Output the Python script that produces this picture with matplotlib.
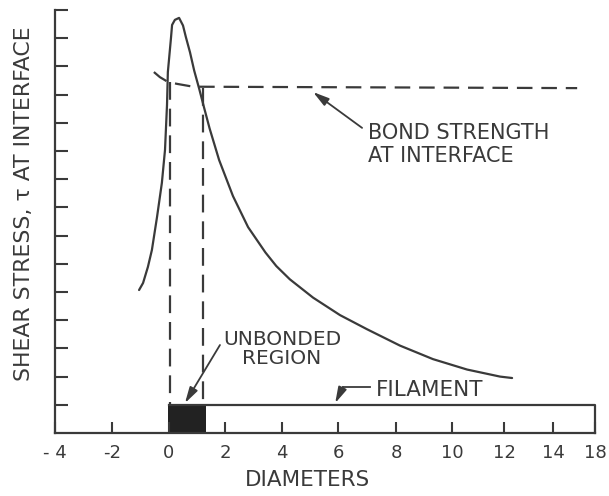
import numpy as np
import matplotlib
matplotlib.use("Agg")
import matplotlib.pyplot as plt

# x axis of the original drawing is not linear (12-14-18 squeezed together)
tick_values = [-4, -2, 0, 2, 4, 6, 8, 10, 12, 14, 18]
tick_labels = ["- 4", "-2", "0", "2", "4", "6", "8", "10", "12", "14", "18"]
scale_px = [55, 112, 169, 225, 282, 338, 396, 452, 504, 553, 595]

# shear stress curve (diameters, stress units)
shear_x = [-1.05, -0.91, -0.74, -0.60, -0.42, -0.25, -0.14, -0.07, -0.04, 0.07,
           0.11, 0.21, 0.36, 0.50, 0.60, 0.75, 0.90, 1.08, 1.25, 1.45,
           1.79, 2.28, 2.81, 3.42, 3.80, 4.28, 5.11, 6.07, 7.00, 8.14,
           9.32, 10.58, 11.85, 12.33]
shear_y = [5.07, 5.32, 5.89, 6.49, 7.66, 8.87, 10.04, 11.63, 12.80, 14.00,
           14.47, 14.65, 14.72, 14.45, 14.05, 13.50, 12.85, 12.20, 11.55, 10.80,
           9.68, 8.40, 7.30, 6.40, 5.92, 5.45, 4.80, 4.18, 3.68, 3.10,
           2.62, 2.25, 2.00, 1.95]

# bond strength at interface (dashed)
bond_x = [-0.53, -0.32, -0.04, 0.29, 0.86, 16.3]
bond_y = [12.80, 12.62, 12.45, 12.38, 12.28, 12.23]

# unbonded region boundaries
unbonded_x = [0.04, 1.22]
unbonded_top = [12.45, 12.23]

filament_start = 0
filament_end = 18
filament_height = 1.0
unbonded_fill = [-0.05, 1.32]

ink = "#3a3a3a"


def forward(x):
    return np.interp(x, tick_values, scale_px)


def inverse(p):
    return np.interp(p, scale_px, tick_values)


fig = plt.figure(figsize=(6.09, 4.96), dpi=100)
ax = fig.add_axes([55 / 609, 63 / 496, 540 / 609, 423 / 496])
ax.set_xscale("function", functions=(forward, inverse))
ax.set_xlim(-4, 18)
ax.set_ylim(0, 15)

# curves
ax.plot(shear_x, shear_y, color=ink, lw=1.6, solid_capstyle="round", solid_joinstyle="round")
ax.plot(bond_x, bond_y, color=ink, lw=1.6, dashes=(7, 4))
for xv, top in zip(unbonded_x, unbonded_top):
    ax.plot([xv, xv], [top, filament_height], color=ink, lw=1.6, dashes=(8, 4))

# filament
ax.plot([filament_start, filament_end, filament_end], [filament_height, filament_height, 0],
        color=ink, lw=1.6, clip_on=False)
ax.fill_between(unbonded_fill, 0, filament_height, color="#222222", lw=0)

# annotations
arrow = dict(arrowstyle="-|>,head_length=0.8,head_width=0.22", color=ink, lw=1.3,
             mutation_scale=12, shrinkA=0, shrinkB=0)
ax.annotate("", xy=(5.11, 12.09), xytext=(6.83, 10.82), arrowprops=arrow)
ax.text(7.03, 10.23, "BOND STRENGTH\nAT INTERFACE", ha="left", va="center",
        fontsize=15, color=ink, linespacing=1.15)

ax.annotate("", xy=(0.57, 1.06), xytext=(1.82, 3.12), arrowprops=arrow)
ax.text(4.0, 2.98, "UNBONDED\nREGION", ha="center", va="center",
        fontsize=14.5, color=ink, linespacing=1.05)

ax.plot([7.1, 6.17], [1.63, 1.63], color=ink, lw=1.3)
ax.annotate("", xy=(5.9, 1.06), xytext=(6.17, 1.63), arrowprops=arrow)
ax.text(7.31, 1.52, "FILAMENT", ha="left", va="center", fontsize=15.5, color=ink)

# axes styling
for side in ["top", "right"]:
    ax.spines[side].set_visible(False)
for side in ["left", "bottom"]:
    ax.spines[side].set_linewidth(1.6)
    ax.spines[side].set_color(ink)

ax.set_xticks(tick_values)
ax.set_xticklabels(tick_labels)
ax.xaxis.set_minor_locator(matplotlib.ticker.NullLocator())
ax.set_yticks(range(1, 16))
ax.set_yticklabels([])
ax.tick_params(axis="x", direction="in", length=8, width=1.5, color=ink,
               labelsize=13, labelcolor=ink, pad=8)
ax.tick_params(axis="y", direction="in", length=9.5, width=1.5, color=ink)

ax.set_xlabel("DIAMETERS", fontsize=15.5, color=ink)
ax.xaxis.set_label_coords(0.467, -0.111)
ax.set_ylabel("SHEAR STRESS, τ AT INTERFACE", fontsize=15.8, color=ink)
ax.yaxis.set_label_coords(-0.057, 0.5426)
for lbl in [ax.xaxis.label, ax.yaxis.label]:
    lbl.set_va("center")

fig.savefig("out.png", dpi=100)
